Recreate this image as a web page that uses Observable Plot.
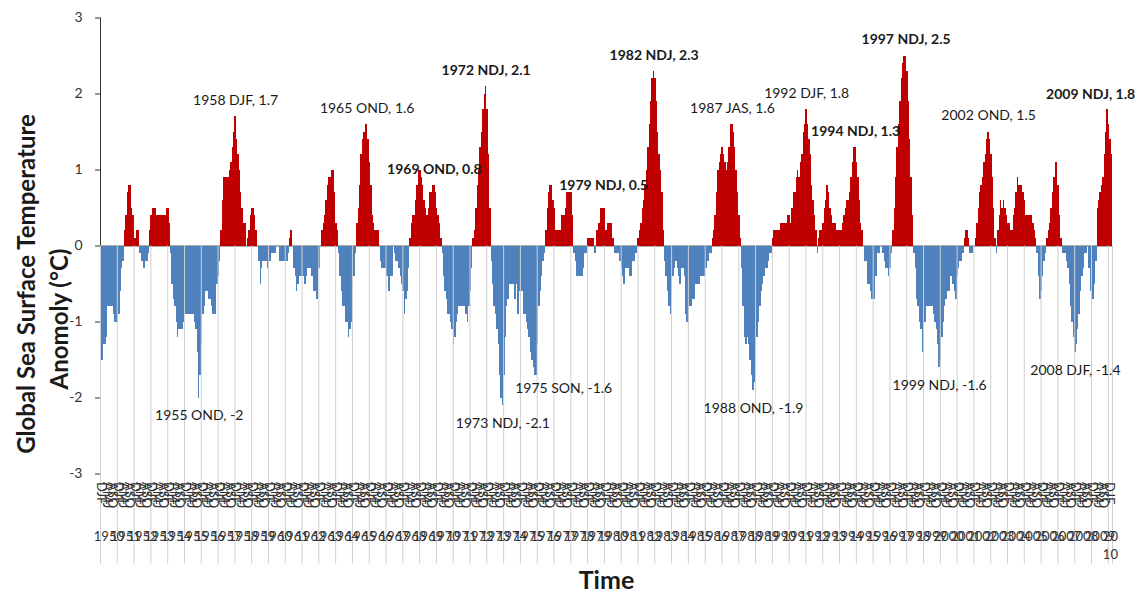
<!DOCTYPE html>
<html>
<head>
<meta charset="utf-8">
<script src="https://cdn.jsdelivr.net/npm/d3@7"></script>
<script src="https://cdn.jsdelivr.net/npm/@observablehq/plot@0.6"></script>
<style>
  html, body { margin: 0; padding: 0; background: #fff; }
  #chart svg { display: block; }
</style>
</head>
<body>
<div id="chart"></div>
<script>
// ---- data -------------------------------------------------------------
const seasons = ["DJF","JFM","FMA","MAM","AMJ","MJJ","JJA","JAS","ASO","SON","OND","NDJ"];
const startYear = 1950;

const oni1950s = [
-1.7,-1.5,-1.3,-1.3,-1.2,-0.8,-0.8,-0.8,-0.8,-0.9,-1.0,-1.0,
-1.0,-0.9,-0.6,-0.3,-0.2,0.2,0.4,0.7,0.8,0.8,0.5,0.4,
0.1,0.1,0.2,0.2,-0.1,-0.2,-0.2,-0.3,-0.2,-0.2,-0.1,0.2,
0.4,0.5,0.5,0.5,0.4,0.4,0.4,0.4,0.4,0.4,0.4,0.5,
0.5,0.3,-0.1,-0.5,-0.7,-0.8,-1.0,-1.2,-1.1,-1.1,-1.1,-1.0,
-0.9,-0.9,-0.9,-0.9,-0.9,-0.9,-0.9,-1.0,-1.1,-1.4,-2.0,-1.7,
-1.3,-0.9,-0.8,-0.6,-0.6,-0.7,-0.7,-0.8,-0.9,-0.9,-0.9,-0.5,
-0.4,-0.2,0.2,0.6,0.9,0.9,0.9,0.9,1.0,1.1,1.3,1.5,
1.7,1.4,1.2,1.0,0.7,0.5,0.3,0.3,0.0,0.1,0.2,0.4,
0.5,0.5,0.4,0.2,0.0,-0.2,-0.5,-0.3,-0.2,-0.2,-0.2,-0.3];

const oni1960s = [
-0.2,-0.2,-0.1,-0.1,-0.1,-0.1,0.0,0.0,-0.2,-0.2,-0.2,-0.2,
-0.2,-0.2,-0.1,0.1,0.2,0.0,-0.3,-0.4,-0.6,-0.5,-0.4,-0.4,
-0.4,-0.4,-0.5,-0.4,-0.3,-0.3,-0.3,-0.4,-0.6,-0.6,-0.7,-0.7,
-0.3,0.0,0.2,0.3,0.4,0.6,0.8,0.9,0.9,1.0,1.0,0.7,
0.3,0.2,-0.1,-0.4,-0.6,-0.8,-0.8,-1.0,-1.0,-1.2,-1.1,-1.0,
-0.6,-0.4,-0.1,0.3,0.5,0.8,1.2,1.4,1.5,1.6,1.6,1.4,
1.1,0.8,0.4,0.3,0.2,0.2,0.2,0.0,-0.2,-0.3,-0.3,-0.3,
-0.4,-0.4,-0.6,-0.4,-0.4,0.0,-0.1,-0.2,-0.2,-0.3,-0.4,-0.5,
-0.6,-0.9,-0.7,-0.6,-0.3,0.1,0.3,0.4,0.4,0.6,0.8,1.0,
1.0,0.9,0.8,0.6,0.5,0.4,0.5,0.7,0.7,0.8,0.8,0.7];

const oni1970s = [
0.5,0.4,0.3,0.1,-0.1,-0.4,-0.6,-0.7,-0.9,-0.9,-1.0,-1.1,
-1.3,-1.2,-1.0,-0.9,-0.8,-0.8,-0.8,-0.8,-0.8,-0.9,-1.0,-0.8,
-0.6,-0.3,0.1,0.2,0.5,0.8,1.0,1.3,1.5,1.8,2.0,2.1,
1.8,1.2,0.5,-0.2,-0.5,-0.8,-0.9,-1.1,-1.3,-1.7,-2.0,-2.1,
-1.7,-1.2,-0.8,-0.7,-0.5,-0.5,-0.5,-0.5,-0.7,-0.5,-0.9,-0.6,
-0.6,-0.6,-0.9,-0.9,-1.0,-1.1,-1.2,-1.4,-1.5,-1.6,-1.7,-1.7,
-1.3,-0.8,-0.6,-0.4,-0.2,-0.1,0.2,0.5,0.7,0.8,0.8,0.6,
0.5,0.2,0.2,0.2,0.2,0.4,0.4,0.4,0.5,0.7,0.7,0.7,
0.7,0.4,-0.1,-0.2,-0.4,-0.4,-0.4,-0.4,-0.4,-0.3,-0.1,-0.1,
0.1,0.1,0.1,0.1,0.1,-0.1,0.2,0.2,0.3,0.5,0.5,0.5];

const oni1980s = [
0.5,0.2,0.3,0.3,0.3,0.3,0.1,-0.1,-0.1,-0.1,-0.1,-0.2,
-0.3,-0.4,-0.5,-0.3,-0.3,-0.3,-0.4,-0.4,-0.2,-0.2,-0.1,-0.1,
0.1,0.2,0.3,0.5,0.6,0.8,1.0,1.3,1.6,1.9,2.2,2.3,
2.2,1.9,1.5,1.2,1.0,0.7,0.2,-0.2,-0.4,-0.6,-0.8,-0.9,
-0.7,-0.4,-0.3,-0.2,-0.3,-0.4,-0.5,-0.3,-0.3,-0.4,-0.9,-1.0,
-1.0,-0.8,-0.8,-0.7,-0.7,-0.5,-0.5,-0.5,-0.5,-0.4,-0.4,-0.4,
-0.3,-0.3,-0.2,-0.1,-0.1,0.1,0.2,0.4,0.7,1.0,1.1,1.2,
1.3,1.2,1.1,1.0,1.1,1.3,1.6,1.6,1.5,1.3,1.0,0.7,
0.4,0.1,-0.3,-0.8,-1.2,-1.3,-1.2,-1.3,-1.5,-1.7,-1.9,-1.8,
-1.6,-1.2,-1.0,-0.8,-0.6,-0.5,-0.4,-0.3,-0.3,-0.2,-0.1,-0.1];

const oni1990s = [
0.1,0.2,0.2,0.2,0.2,0.2,0.3,0.3,0.3,0.3,0.3,0.4,
0.4,0.3,0.5,0.7,0.7,0.9,1.0,0.9,1.1,1.2,1.5,1.6,
1.8,1.6,1.4,1.2,0.8,0.6,0.4,0.2,-0.1,0.1,0.2,0.2,
0.3,0.5,0.6,0.8,0.7,0.5,0.4,0.3,0.3,0.3,0.2,0.2,
0.2,0.2,0.3,0.4,0.5,0.6,0.6,0.7,0.9,1.1,1.3,1.3,
1.1,0.9,0.6,0.3,0.2,0.0,-0.2,-0.2,-0.5,-0.5,-0.6,-0.7,
-0.7,-0.7,-0.4,-0.1,-0.1,0.0,0.0,-0.1,-0.2,-0.3,-0.3,-0.4,
-0.3,-0.1,0.2,0.5,0.9,1.3,1.6,1.9,2.2,2.4,2.5,2.5,
2.3,1.9,1.4,0.9,0.4,-0.1,-0.3,-0.7,-0.8,-1.0,-1.1,-1.4,
-1.4,-1.0,-0.8,-0.8,-0.8,-0.8,-0.8,-0.9,-1.0,-1.1,-1.3,-1.6];

const oni2000s = [
-1.5,-1.2,-1.0,-0.8,-0.7,-0.6,-0.6,-0.4,-0.4,-0.5,-0.6,-0.7,
-0.4,-0.3,-0.2,-0.2,-0.1,0.1,0.2,0.2,0.1,-0.1,-0.1,-0.1,
0.0,0.1,0.3,0.5,0.7,0.8,0.9,1.1,1.2,1.4,1.5,1.4,
1.2,0.9,0.5,0.1,-0.1,0.2,0.4,0.6,0.5,0.6,0.5,0.4,
0.3,0.3,0.2,0.2,0.4,0.5,0.7,0.9,0.8,0.8,0.8,0.7,
0.6,0.4,0.4,0.4,0.4,0.4,0.3,0.2,0.1,-0.1,-0.4,-0.7,
-0.6,-0.4,-0.2,-0.1,0.1,0.2,0.3,0.5,0.7,0.9,1.1,1.1,
0.8,0.4,0.1,-0.1,-0.1,-0.1,-0.2,-0.3,-0.5,-0.8,-1.0,-1.2,
-1.4,-1.3,-1.1,-0.9,-0.6,-0.4,-0.3,-0.1,-0.1,0.0,-0.3,-0.6,
-0.8,-0.7,-0.5,-0.2,0.5,0.6,0.7,0.8,0.9,1.2,1.5,1.8];

const oni2010 = [1.6, 1.4, 1.2];

// axis tick labels
const yTicks = [-3, -2, -1, 0, 1, 2, 3];
const tickSeasons = ["DJF", "AMJ", "ASO"];

// peak annotations
const annYears   = [1955, 1958, 1965, 1969, 1972, 1973, 1975, 1979, 1982, 1987, 1988, 1992, 1994, 1997, 1999, 2002, 2008, 2009];
const annSeasons = ["OND","DJF","OND","OND","NDJ","NDJ","SON","NDJ","NDJ","JAS","OND","DJF","NDJ","NDJ","NDJ","OND","DJF","NDJ"];
const annValues  = [-2, 1.7, 1.6, 0.8, 2.1, -2.1, -1.6, 0.5, 2.3, 1.6, -1.9, 1.8, 1.3, 2.5, -1.6, 1.5, -1.4, 1.8];
const annBold    = [false,false,false,true,true,false,false,true,true,false,false,false,true,true,false,false,false,true];

// ---- layout / style --------------------------------------------------
const RED = "#C00000", BLUE = "#4F81BD", TXT = "#333333";
const labelNudge = {1975: {dx: 30, dy: 21}, 1979: {dx: 0, dy: -22}, 2009: {dx: -17, dy: -15}};

// ---- derived tables --------------------------------------------------
const oni = [...oni1950s, ...oni1960s, ...oni1970s, ...oni1980s, ...oni1990s, ...oni2000s, ...oni2010];
const data = oni.map((v, i) => ({i, v, year: startYear + Math.floor(i / 12), season: seasons[i % 12]}));
const seasonTicks = data.filter(d => d.i % 4 === 0 && tickSeasons.includes(d.season));
const years = Array.from(new Set(data.map(d => d.year)));
const yearLabels = years.map(y => {
  const idx = data.filter(d => d.year === y).map(d => d.i);
  const s = String(y);
  return {x: (d3.min(idx) + d3.max(idx)) / 2, text: idx.length < 12 ? s.slice(0, 2) + "\n" + s.slice(2) : s};
});
const boundaries = years.map(y => (y - startYear) * 12 - 0.5).concat([oni.length - 0.5]);

const annotations = annYears.map((y, k) => {
  const v = annValues[k];
  const n = labelNudge[y] || {};
  return {
    i: (y - startYear) * 12 + seasons.indexOf(annSeasons[k]),
    v,
    text: `${y} ${annSeasons[k]}, ${v}`,
    bold: annBold[k],
    dx: n.dx ?? 0,
    dy: n.dy ?? (v > 0 ? -16 : 18)
  };
});

const titleStyle = {text: d => d, rotate: -90, textAnchor: "middle", lineAnchor: "middle", fontSize: 24, fontWeight: "bold", fill: "#1a1a1a"};

const chart = Plot.plot({
  width: 1143,
  height: 594,
  marginLeft: 100,
  marginRight: 31,
  marginTop: 17.5,
  marginBottom: 120.5,
  style: {fontFamily: "Lato, 'Open Sans', sans-serif", fontSize: "14px", color: TXT, background: "#fff"},
  x: {domain: [-0.5, oni.length - 0.5], axis: null},
  y: {domain: [-3, 3], ticks: yTicks, tickSize: 5, tickPadding: 13, tickFormat: d => String(d), label: null, line: true},
  color: {domain: ["pos", "neg"], range: [RED, BLUE]},
  marks: [
    Plot.ruleY([0], {stroke: "#595959", strokeWidth: 1}),
    Plot.rectY(data, {
      x1: d => d.i - 0.5, x2: d => d.i + 0.5, y1: 0, y2: "v",
      fill: d => (d.v >= 0 ? "pos" : "neg"), shapeRendering: "crispEdges"
    }),
    Plot.ruleX(boundaries, {x: d => d, y1: -3, stroke: "#d0d0d0", insetBottom: -90}),
    Plot.text(seasonTicks, {x: "i", y: -3, text: "season", rotate: 90, textAnchor: "start", dy: 8, fontSize: 13, fill: TXT}),
    Plot.text(yearLabels, {x: "x", y: -3, text: "text", lineAnchor: "top", dy: 54, fontSize: 13, lineHeight: 1.4, fill: TXT}),
    ...annotations.map(a => Plot.text([a], {
      x: "i", y: "v", text: "text", dx: a.dx, dy: a.dy,
      fontSize: 14, fontWeight: a.bold ? "bold" : "normal", fill: "#1a1a1a"
    })),
    Plot.text(["Global Sea Surface Temperature"], {...titleStyle, frameAnchor: "left", dx: -73, dy: 38}),
    Plot.text(["Anomoly (°C)"], {...titleStyle, frameAnchor: "left", dx: -40, dy: 73}),
    Plot.text(["Time"], {text: d => d, frameAnchor: "bottom", textAnchor: "middle", lineAnchor: "middle", dy: 107, fontSize: 25, fontWeight: "bold", fill: "#1a1a1a"})
  ]
});
document.getElementById("chart").appendChild(chart);
</script>
</body>
</html>
